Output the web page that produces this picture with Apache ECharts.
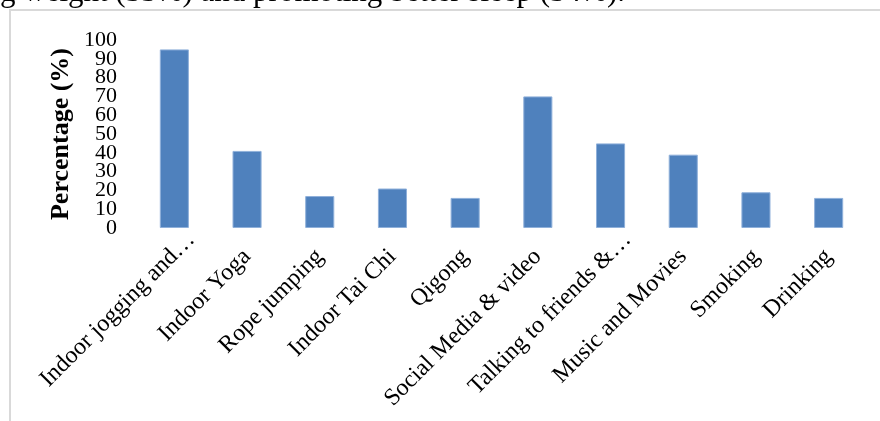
<!DOCTYPE html>
<html>
<head>
<meta charset="utf-8">
<script src="https://cdn.jsdelivr.net/npm/echarts@6/dist/echarts.min.js"></script>
<style>
  html, body { margin: 0; padding: 0; background: #fff; }
  #chart { width: 880px; height: 421px; }
</style>
</head>
<body>
<div id="chart"></div>
<script>
// Coping activities and the share of respondents reporting each one
const categories = [
  'Indoor jogging and…', 'Indoor Yoga', 'Rope jumping', 'Indoor Tai Chi', 'Qigong',
  'Social Media & video', 'Talking to friends &…', 'Music and Movies', 'Smoking', 'Drinking'
];
const percentages = [95, 41, 17, 21, 16, 70, 45, 39, 19, 16];
const yTickLabels = ['0', '10', '20', '30', '40', '50', '60', '70', '80', '90', '100'];
const yRange = { min: 0, max: 100, interval: 10 };
const yAxisTitle = 'Percentage (%)';
const bodyText = 'g weight (33%) and promoting better sleep (34%).';

const serif = '"Liberation Serif", "Times New Roman", serif';

// truncated category names run a little further past their tick
const categoryItems = categories.map(function (name) {
  if (name.endsWith('…')) {
    return { value: name, textStyle: { padding: [0, -24, 0, 0] } };
  }
  return name;
});

const chart = echarts.init(document.getElementById('chart'), null, { renderer: 'canvas' });

chart.setOption({
  animation: false,
  backgroundColor: '#ffffff',
  grid: { left: 138, right: 15, top: 40, bottom: 193, containLabel: false },
  graphic: [
    {
      // running text line above the figure frame
      type: 'text',
      x: 0,
      y: -7,
      style: { text: bodyText, font: '31px ' + serif, fill: '#000', verticalAlign: 'middle', align: 'left' },
      z: 10
    },
    {
      // figure frame
      type: 'rect',
      shape: { x: 10, y: 10, width: 900, height: 440 },
      style: { fill: 'none', stroke: '#d9d9d9', lineWidth: 2 },
      z: 0
    }
  ],
  xAxis: {
    type: 'category',
    data: categoryItems,
    axisLine: { show: false },
    axisTick: { show: false },
    axisLabel: {
      interval: 0,
      rotate: 45,
      margin: 25,
      color: '#000',
      fontFamily: serif,
      fontSize: 24
    }
  },
  yAxis: [
    {
      // value scale for the bars
      type: 'value',
      min: yRange.min,
      max: yRange.max,
      interval: yRange.interval,
      name: yAxisTitle,
      nameLocation: 'middle',
      nameGap: 64,
      nameTextStyle: { color: '#000', fontFamily: serif, fontSize: 26, fontWeight: 'bold' },
      axisLine: { show: false },
      axisTick: { show: false },
      splitLine: { show: false },
      axisLabel: { show: false }
    },
    {
      // tightly packed tick labels, every one kept visible
      type: 'category',
      position: 'left',
      data: yTickLabels,
      boundaryGap: false,
      axisLine: { show: false },
      axisTick: { show: false },
      splitLine: { show: false },
      axisLabel: { interval: 0, color: '#000', fontFamily: serif, fontSize: 22, margin: 21 }
    }
  ],
  series: [{
    type: 'bar',
    yAxisIndex: 0,
    data: percentages,
    barWidth: '40%',
    itemStyle: { color: '#4f81bd', borderColor: '#8fb0da', borderWidth: 1 }
  }]
});
</script>
</body>
</html>
